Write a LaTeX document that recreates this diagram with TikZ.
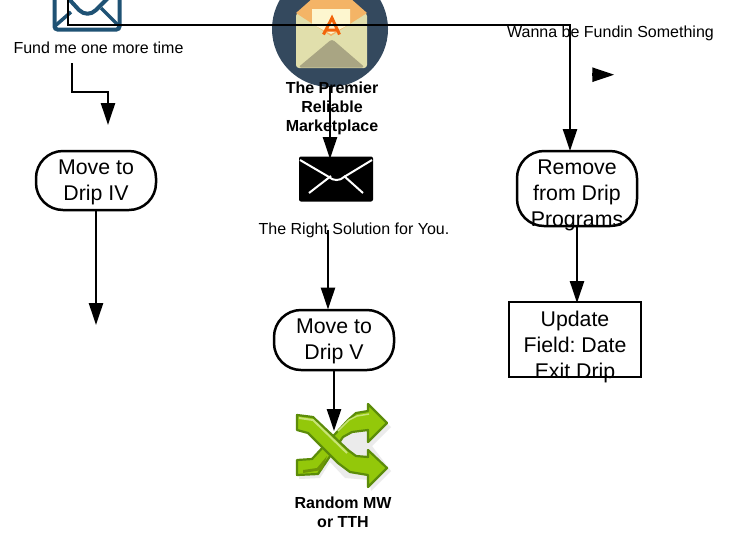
\documentclass[tikz,border=0pt]{standalone}
\usepackage{fontspec}
\setmainfont{Liberation Sans}
\usetikzlibrary{arrows.meta}
\definecolor{iconblue}{HTML}{1F5274}
\definecolor{discblue}{HTML}{34495E}
\definecolor{flap}{HTML}{F4B466}
\definecolor{paper}{HTML}{FDF6CF}
\definecolor{front}{HTML}{E1DFAC}
\definecolor{fold}{HTML}{A9A583}
\definecolor{stamp}{HTML}{F2640A}
\definecolor{gdark}{HTML}{5C8C0A}
\definecolor{gmid}{HTML}{93C80A}
\definecolor{glight}{HTML}{C8E477}
\frenchspacing
\tikzset{
  x=1pt,y=-1pt,
  conn/.style={line width=2.5pt,draw=black,-{Triangle[length=22pt,width=14pt]}},
  flow/.style={draw=black,line width=2.5pt,fill=white,rounded corners=27pt,minimum width=120pt,inner sep=0pt},
  boxed/.style={draw=black,line width=2.5pt,fill=white,minimum width=132pt,minimum height=75pt,inner sep=0pt},
  flowtext/.style={font=\fontsize{21.3}{26}\selectfont,align=center,inner sep=0pt},
  small/.style={font=\fontsize{16}{19}\selectfont,align=center,inner sep=0pt},
  smallbold/.style={font=\fontsize{16}{19}\selectfont\bfseries,align=center,inner sep=0pt},
  gshape/.style={draw=gdark,line width=2.2pt,fill=gmid,line join=round},
}
\begin{document}
\begin{tikzpicture}
\useasboundingbox (0,0) rectangle (735,539);
\clip (0,0) rectangle (735,539);
\fill[white] (0,0) rectangle (735,539);

% left envelope
\node[draw=iconblue,line width=4pt,fill=white,rounded corners=3pt,minimum width=65pt,minimum height=60pt,inner sep=0pt] (envleft) at (87,-0.5) {};
\draw[iconblue,line width=4pt,line join=round] (68,-2) -- (79,10) .. controls (84,15) and (91,15) .. (96,10) -- (108,-2);
\draw[iconblue,line width=3.5pt] (55,26) -- (71,12) (119,26) -- (101,8);

% big disc icon
\node[circle,fill=discblue,minimum size=116pt,inner sep=0pt] (disc) at (330,29) {};
\fill[front,rounded corners=3pt] (296,13) -- (367,13) -- (367,68) -- (296,68) -- cycle;
\fill[flap] (296,13) -- (313,-2) -- (350,-2) -- (367,13) -- (331,36) -- cycle;
\fill[paper] (312,9) -- (350,9) -- (350,24) -- (331,34) -- (312,24) -- cycle;
\fill[fold,rounded corners=3pt] (298,67.5) -- (332,39) -- (365,67.5) -- cycle;
\draw[stamp,line width=3pt] (323.5,34.5) -- (332,18) -- (339.5,34.5) (326,30) -- (338,30);

% black envelope
\node[fill=black,rounded corners=2pt,minimum width=74pt,minimum height=45pt,inner sep=0pt] (envblack) at (336,179) {};
\draw[white,line width=2pt] (300,160) -- (329,177) .. controls (333,181) and (340,181) .. (344,177) -- (372,160);
\draw[white,line width=2pt] (309,193) -- (331,176) (363,193) -- (344,176);

% shuffle icon
\node[minimum width=92pt,minimum height=84pt,inner sep=0pt] (shuffle) at (342,446) {};
\fill[black!8] (299,464) -- (320,463) -- (350,424) -- (372,408) -- (391,427) -- (372,446) -- (391,471) -- (371,491) -- (369,480) -- (345,478) -- (330,462) -- (320,478) -- (299,479) -- cycle;
\draw[gshape] (297,460) -- (312,459) -- (348,420) -- (356,413) -- (368,411) -- (368,404) -- (387,423) -- (368,442) -- (368,430) -- (352,432) -- (343,437) -- (318,474) -- (297,475) -- cycle;
\draw[gshape] (297,415) -- (313,417) -- (348,450) -- (356,456) -- (368,457) -- (368,450) -- (387,468) -- (368,487) -- (368,475) -- (350,472) -- (338,463) -- (308,433) -- (297,430) -- cycle;
\draw[glight,line width=2pt] (299,418) -- (313,420) -- (347,453);
\draw[glight,line width=1.5pt] (338,431) -- (349,420) -- (357,416) -- (369,414);
\fill[gmid!75!black] (303,470) -- (317,468) -- (327,456) -- (322,470) -- (303,473) -- cycle;

% process shapes
\node[flow,minimum height=59pt] (drip4) at (96,180.5) {};
\node[flow,minimum height=60pt] (drip5) at (334,340) {};
\node[flow,minimum height=75pt] (remove) at (577,188.5) {};
\node[boxed] (update) at (575,339.5) {};

% coordinates of free ends
\coordinate (c1a) at (72,63);
\coordinate (c1b) at (72,92);
\coordinate (c1c) at (108,92);
\coordinate (c1d) at (108,125);
\coordinate (c2end) at (96,325);
\coordinate (c3a) at (68,-2);
\coordinate (c3b) at (68,25);
\coordinate (c3c) at (570,25);
\coordinate (c4a) at (330,86);
\coordinate (c5a) at (328,230);
\coordinate (c6a) at (592.3,74.7);
\coordinate (c6b) at (614.3,74.7);
\coordinate (c7end) at (334,431);
\coordinate (c8top) at (330,159);
\coordinate (c9top) at (328,309.5);
\coordinate (c10top) at (570,151);
\coordinate (c11top) at (577,303);

% connectors
\draw[conn] (c1a) -- (c1b) -- (c1c) -- (c1d);
\draw[conn] (drip4.south) -- (c2end);
\draw[conn] (c3a) -- (c3b) -- (c3c) -- (c10top);
\draw[conn] (c4a) -- (c8top);
\draw[conn] (c5a) -- (c9top);
\draw[conn] (c6a) -- (c6b);
\draw[conn] (drip5.south) -- (c7end);
\draw[conn] (remove.south) -- (c11top);

% texts
\node[small] (t1) at (98.5,48) {Fund me one more time};
\node[small] (t2) at (610.5,33) {Wanna be Fundin Something};
\node[smallbold] (t3) at (332,108.5) {The Premier\\Reliable\\Marketplace};
\node[small] (t4) at (354,230) {The Right Solution for You.};
\node[smallbold] (t5) at (343,512) {Random MW\\or TTH};
\node[flowtext] (l1) at (96,182) {Move to\\Drip IV};
\node[flowtext] (l2) at (334,341) {Move to\\Drip V};
\node[flowtext] (l3) at (577,195) {Remove\\from Drip\\Programs};
\node[flowtext] (l4) at (575,346.5) {Update\\Field: Date\\Exit Drip};
\end{tikzpicture}
\end{document}
